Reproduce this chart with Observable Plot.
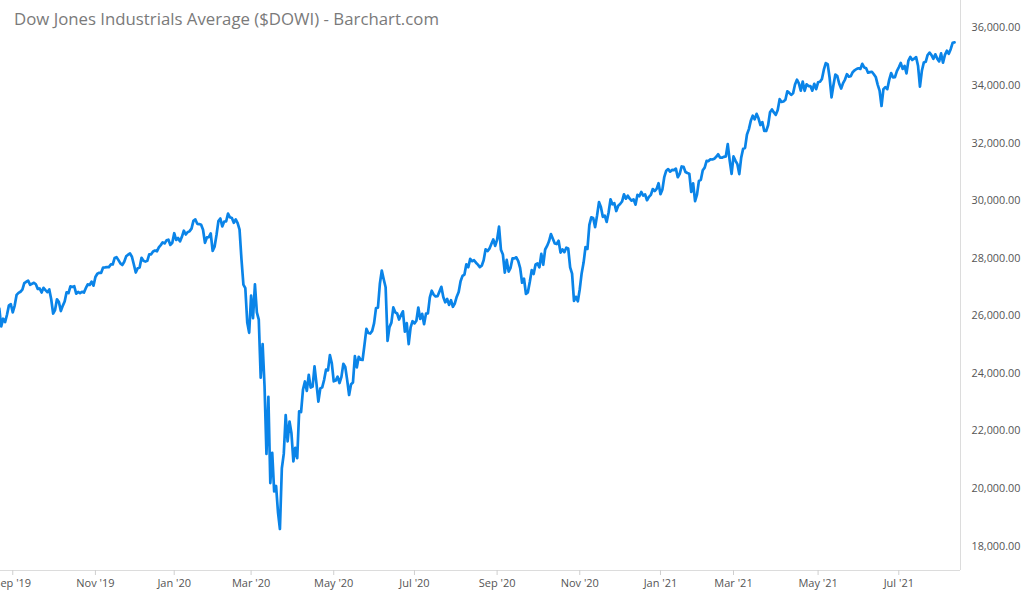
<!DOCTYPE html>
<html>
<head>
<meta charset="utf-8">
<script src="https://cdn.jsdelivr.net/npm/d3@7"></script>
<script src="https://cdn.jsdelivr.net/npm/@observablehq/plot@0.6"></script>
<style>
  html, body { margin: 0; padding: 0; background: #fff; }
  #wrap { position: relative; width: 1024px; height: 595px; font-family: "Open Sans", sans-serif; }
  #title { position: absolute; left: 14px; top: 7px; font-size: 16.8px; color: #7a7a7a; white-space: nowrap; }
</style>
</head>
<body>
<div id="wrap">
  <div id="chart"></div>
  <div id="title">Dow Jones Industrials Average ($DOWI) - Barchart.com</div>
</div>
<script>
// Daily closes by month (trading days)
const aug19 = [26252, 25629, 25899, 25778, 26036, 26362, 26403];
const sep19 = [26118, 26355, 26728, 26797, 26836, 26909, 27137, 27182, 27220, 27077, 27111, 27147, 27095, 26935, 26950, 26808, 26971, 26891, 26820, 26917];
const oct19 = [26573, 26079, 26201, 26574, 26478, 26164, 26346, 26497, 26817, 26787, 27025, 27002, 27026, 26770, 26828, 26788, 26834, 26806, 26958, 27091, 27071, 27187, 27046];
const nov19 = [27347, 27462, 27493, 27493, 27675, 27681, 27691, 27691, 27784, 27782, 28005, 28036, 27934, 27821, 27766, 27876, 28066, 28122, 28164, 28051];
const dec19 = [27783, 27503, 27650, 27678, 28015, 27910, 27882, 27911, 28132, 28135, 28236, 28267, 28239, 28377, 28455, 28552, 28515, 28621, 28645, 28462, 28538];
const jan20 = [28869, 28635, 28703, 28584, 28745, 28957, 28824, 28907, 28940, 29030, 29298, 29348, 29196, 29186, 29160, 28990, 28536, 28723, 28734, 28859, 28256];
const feb20 = [28400, 28808, 29291, 29380, 29103, 29277, 29276, 29551, 29423, 29398, 29232, 29348, 29220, 28992, 27961, 27081, 26958, 25767, 25409];
const mar20 = [26703, 25917, 27091, 26121, 25865, 23851, 25018, 23553, 21200, 23186, 20189, 21237, 19899, 20087, 19174, 18592, 20704, 21200, 22552, 21637, 22327, 21917];
const apr20 = [20944, 21413, 21053, 22680, 22654, 23434, 23719, 23391, 23950, 23504, 23538, 24242, 23650, 23019, 23476, 23515, 23775, 24134, 24102, 24634, 24346];
const may20 = [23724, 23750, 23883, 23665, 23876, 24331, 24222, 23765, 23248, 23625, 23685, 24597, 24207, 24576, 24474, 24465, 24995, 25548, 25401, 25383];
const jun20 = [25475, 25743, 26270, 26282, 27111, 27572, 27272, 26990, 25128, 25606, 25763, 26290, 26120, 26080, 25871, 26025, 26156, 25446, 25746, 25016, 25596, 25813];
const jul20 = [25735, 25827, 26287, 25890, 26067, 25706, 26075, 26086, 26643, 26870, 26735, 26672, 26681, 26840, 27006, 26652, 26470, 26585, 26379, 26540, 26314, 26428];
const aug20 = [26664, 26828, 27202, 27387, 27433, 27791, 27687, 27977, 27897, 27931, 27845, 27778, 27693, 27740, 27930, 28308, 28248, 28332, 28492, 28654, 28430];
const sep20 = [28646, 29100, 28293, 28133, 27501, 27940, 27535, 27666, 27993, 27996, 28032, 27902, 27657, 27148, 27288, 26763, 26815, 27174, 27584, 27453, 27782];
const oct20 = [27817, 27683, 28149, 27773, 28303, 28426, 28587, 28838, 28680, 28514, 28494, 28606, 28195, 28309, 28211, 28364, 28336, 27685, 27463, 26520, 26659, 26502];
const nov20 = [26925, 27480, 27848, 28390, 28323, 29158, 29421, 29398, 29080, 29480, 29950, 29783, 29438, 29483, 29263, 29591, 30046, 29872, 29910, 29639];
const dec20 = [29824, 29884, 29970, 30218, 30070, 30174, 30069, 29999, 30046, 29862, 30199, 30155, 30303, 30179, 30216, 30016, 30130, 30200, 30404, 30336, 30410, 30606];
const jan21 = [30224, 30392, 30829, 31041, 31098, 31009, 31069, 31060, 31112, 30814, 30931, 31188, 31176, 30997, 30960, 30937, 30303, 30603, 29983];
const feb21 = [30212, 30687, 30724, 31056, 31148, 31386, 31376, 31438, 31431, 31458, 31523, 31613, 31493, 31494, 31522, 31537, 31962, 31402, 30932];
const mar21 = [31536, 31392, 31270, 30924, 31496, 31802, 31833, 32297, 32486, 32779, 32953, 32826, 33015, 32862, 32628, 32731, 32423, 32420, 32619, 33073, 33171, 33067, 32982];
const apr21 = [33153, 33527, 33430, 33446, 33504, 33801, 33745, 33677, 33731, 34036, 34201, 34078, 33821, 34137, 33816, 34043, 33982, 33985, 33820, 34060, 33875];
const may21 = [34113, 34133, 34230, 34549, 34778, 34743, 34269, 33588, 34021, 34382, 34328, 34061, 33896, 34084, 34208, 34394, 34312, 34323, 34465, 34529];
const jun21 = [34575, 34600, 34577, 34756, 34630, 34600, 34447, 34466, 34480, 34394, 34299, 34034, 33823, 33290, 33877, 33946, 33874, 34197, 34434, 34283, 34292, 34503];
const jul21 = [34634, 34786, 34578, 34682, 34422, 34870, 34996, 34889, 34933, 34987, 34688, 33962, 34512, 34798, 34823, 35062, 35144, 35059, 34931, 35085, 34935];
const aug21 = [34838, 35116, 34793, 35064, 35209, 35102, 35265, 35485, 35500];

const monthLabels = ["Aug '19", "Sep '19", "Oct '19", "Nov '19", "Dec '19", "Jan '20", "Feb '20", "Mar '20", "Apr '20", "May '20", "Jun '20", "Jul '20", "Aug '20", "Sep '20", "Oct '20", "Nov '20", "Dec '20", "Jan '21", "Feb '21", "Mar '21", "Apr '21", "May '21", "Jun '21", "Jul '21", "Aug '21"];
const monthValues = [aug19, sep19, oct19, nov19, dec19, jan20, feb20, mar20, apr20, may20, jun20, jul20, aug20, sep20, oct20, nov20, dec20, jan21, feb21, mar21, apr21, may21, jun21, jul21, aug21];
const xTickLabels = ["Sep '19", "Nov '19", "Jan '20", "Mar '20", "May '20", "Jul '20", "Sep '20", "Nov '20", "Jan '21", "Mar '21", "May '21", "Jul '21"];
const yTicks = [18000, 20000, 22000, 24000, 26000, 28000, 30000, 32000, 34000, 36000];
const xDomain = [0.62, 500.1];
const yDomain = [17150, 36955];

// Build table: x = trading-day index
const rows = [];
const monthStart = new Map();
let idx = 0;
monthLabels.forEach((m, k) => {
  monthStart.set(m, idx);
  monthValues[k].forEach(v => { rows.push({i: idx, v, month: m}); idx++; });
});
const tickIdx = xTickLabels.map(l => monthStart.get(l));
const labelOf = new Map(xTickLabels.map(l => [monthStart.get(l), l]));

const chart = Plot.plot({
  width: 1024,
  height: 595,
  marginLeft: 0,
  marginRight: 64,
  marginTop: 0,
  marginBottom: 25,
  style: {fontFamily: "'Open Sans', sans-serif", fontSize: "11px", background: "#fff", color: "#555"},
  x: {domain: xDomain, axis: null},
  y: {domain: yDomain, axis: null},
  marks: [
    Plot.ruleX([xDomain[1]], {stroke: "#dcdcdc"}),
    Plot.ruleY([yDomain[0]], {stroke: "#dcdcdc"}),
    Plot.axisX(tickIdx, {anchor: "bottom", label: null, tickSize: 5, tickPadding: 4, stroke: "#cfcfcf", fill: "#555", tickFormat: d => labelOf.get(d), fontSize: 11}),
    Plot.axisY(yTicks, {anchor: "right", label: null, tickSize: 0, tickPadding: 11, fill: "#555", tickFormat: d3.format(",.2f"), fontSize: 10.8}),
    Plot.line(rows, {x: "i", y: "v", stroke: "#0a84e8", strokeWidth: 2.7, strokeLinejoin: "round"})
  ]
});
document.getElementById("chart").appendChild(chart);
</script>
</body>
</html>
